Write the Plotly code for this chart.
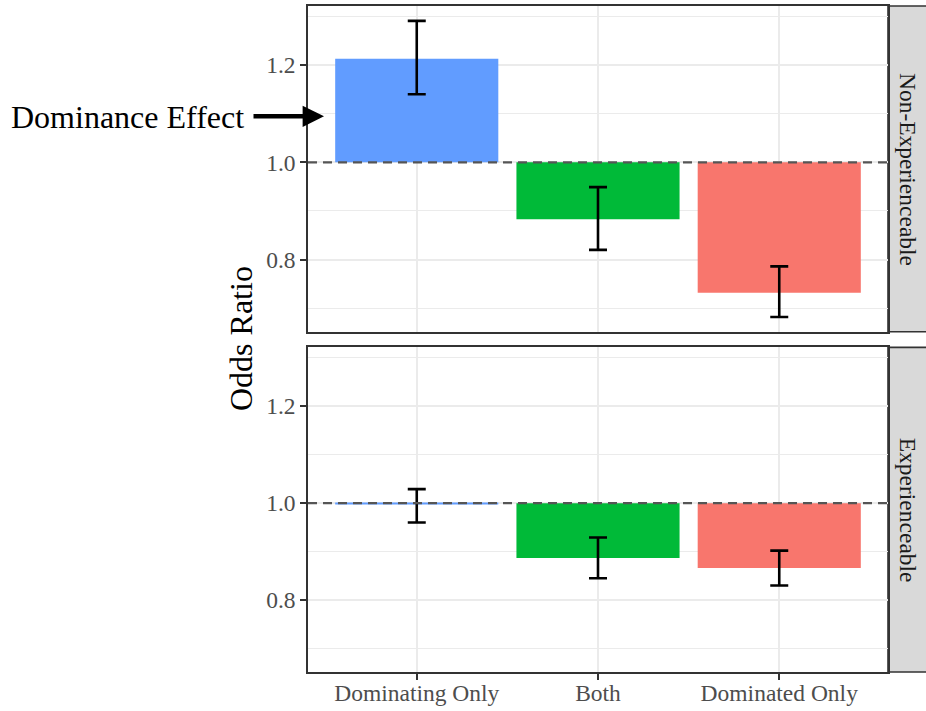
import plotly.graph_objects as go

# ---- data ----
categories = ["Dominating Only", "Both", "Dominated Only"]
bar_colors = ["#619CFF", "#00BA38", "#F8766D"]
facets = ["Non-Experienceable", "Experienceable"]

nonexp_or = [1.213, 0.883, 0.732]
nonexp_lo = [1.140, 0.820, 0.682]
nonexp_hi = [1.291, 0.949, 0.786]

exp_or = [0.998, 0.887, 0.866]
exp_lo = [0.960, 0.845, 0.830]
exp_hi = [1.029, 0.929, 0.902]

y_ticks = [0.8, 1.0, 1.2]
y_minor = [0.7, 0.9, 1.1, 1.3]
reference = 1.0

# ---- layout constants ----
W, H = 926, 711
ML, MR, MT, MB = 308, 38, 5.5, 38.7
PW = W - ML - MR
PH = H - MT - MB

def py(px_from_top):
    return (H - px_from_top - MB) / PH

top_dom = [py(331.7), 1.0]
bot_dom = [0.0, py(347.3)]

FONT = "Liberation Serif, Times New Roman, serif"
TICKC = "#4D4D4D"
BORDER = "#333333"
GRID = "#EBEBEB"
yrange = [0.6515, 1.3215]

fig = go.Figure()

panels = [
    (nonexp_or, nonexp_lo, nonexp_hi, "x", "y"),
    (exp_or, exp_lo, exp_hi, "x2", "y2"),
]
for vals, lo, hi, xa, ya in panels:
    fig.add_trace(go.Bar(
        x=categories, y=[v - reference for v in vals], base=reference,
        marker=dict(color=bar_colors, line=dict(width=0)), width=0.9,
        xaxis=xa, yaxis=ya, showlegend=False,
    ))
    fig.add_trace(go.Scatter(
        x=categories, y=vals, mode="markers",
        marker=dict(size=1, opacity=0),
        error_y=dict(type="data", symmetric=False,
                     array=[h - v for h, v in zip(hi, vals)],
                     arrayminus=[v - l for v, l in zip(vals, lo)],
                     color="black", thickness=2.6, width=9),
        xaxis=xa, yaxis=ya, showlegend=False,
    ))

xcommon = dict(
    type="category", range=[-0.6, 2.6], showgrid=True, gridcolor=GRID, gridwidth=1.6,
    showline=True, linecolor=BORDER, linewidth=1.6, mirror=True, zeroline=False,
    tickfont=dict(family=FONT, size=23.5, color=TICKC), automargin=False,
)
ycommon = dict(
    range=yrange, tickvals=y_ticks, ticktext=[f"{t:.1f}" for t in y_ticks],
    showgrid=True, gridcolor=GRID, gridwidth=1.6,
    minor=dict(tickvals=y_minor, showgrid=True, gridcolor=GRID, gridwidth=1.0, ticks=""),
    showline=True, linecolor=BORDER, linewidth=1.6, mirror=True, zeroline=False,
    ticks="outside", ticklen=6, tickwidth=1.5, tickcolor=BORDER,
    tickfont=dict(family=FONT, size=23.5, color=TICKC), automargin=False,
)

fig.update_layout(
    width=W, height=H,
    margin=dict(l=ML, r=MR, t=MT, b=MB, pad=0, autoexpand=False),
    paper_bgcolor="white", plot_bgcolor="white",
    showlegend=False, bargap=0.1,
    xaxis=dict(xcommon, anchor="y", domain=[0, 1], showticklabels=False, ticks=""),
    yaxis=dict(ycommon, anchor="x", domain=top_dom),
    xaxis2=dict(xcommon, anchor="y2", domain=[0, 1], ticks="outside", ticklen=6,
                tickwidth=1.5, tickcolor=BORDER, ticklabelstandoff=-7),
    yaxis2=dict(ycommon, anchor="x2", domain=bot_dom),
)

shapes = []
annotations = []
strip_w = 40 / PW
for dom, ya, label in [(top_dom, "y", facets[0]), (bot_dom, "y2", facets[1])]:
    shapes.append(dict(type="line", xref=("x domain" if ya == "y" else "x2 domain"), yref=ya,
                       x0=0, x1=1, y0=reference, y1=reference, layer="above",
                       line=dict(color="#555555", width=2.4, dash="9px,6px")))
    shapes.append(dict(type="rect", xref="paper", yref="paper",
                       x0=1.0, x1=1.0 + strip_w, y0=dom[0], y1=dom[1],
                       fillcolor="#D9D9D9", line=dict(color=BORDER, width=1.6), layer="below"))
    annotations.append(dict(xref="paper", yref="paper", x=(908 - ML) / PW,
                            y=(dom[0] + dom[1]) / 2, text=label, showarrow=False,
                            textangle=90, xanchor="center", yanchor="middle",
                            font=dict(family=FONT, size=23.5, color="#1A1A1A")))

annotations.append(dict(xref="paper", yref="paper", x=(241 - ML) / PW, y=py(338.9),
                        text="Odds Ratio", showarrow=False, textangle=-90,
                        xanchor="center", yanchor="middle",
                        font=dict(family=FONT, size=32, color="black")))
annotations.append(dict(xref="paper", yref="paper", x=(9 - ML) / PW, y=py(117),
                        text="Dominance Effect", showarrow=False,
                        xanchor="left", yanchor="middle",
                        font=dict(family=FONT, size=32, color="black")))
annotations.append(dict(xref="paper", yref="paper", x=(324 - ML) / PW, y=py(116),
                        text="", showarrow=True, ax=-72, ay=0,
                        arrowhead=2, arrowsize=0.95, arrowwidth=4.5,
                        arrowcolor="black", standoff=0))

fig.update_layout(shapes=shapes, annotations=annotations)
fig.write_html("out.html")
